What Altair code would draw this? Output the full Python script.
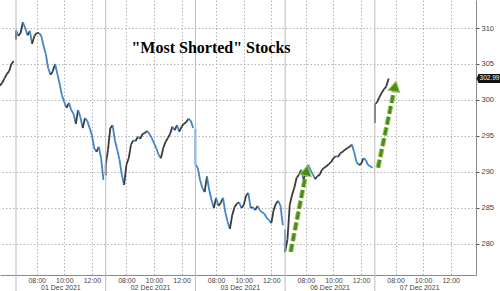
import altair as alt
import pandas as pd

# 10-minute closes
nov30_closes = [302.0, 302.4, 303.0, 303.6, 304.0, 305.0, 305.4]
dec01_closes = [309.7, 308.9, 309.3, 310.8, 310.0, 309.0, 309.6, 307.8, 308.9, 309.3,
                309.3, 308.9, 307.5, 306.3, 304.4, 303.5, 304.0, 305.0, 303.6, 302.2,
                300.6, 299.7, 298.9, 299.6, 298.6, 298.1, 296.7, 298.6, 297.6, 296.1,
                297.5, 297.1, 296.1, 295.1, 293.3, 292.8, 293.5, 291.9, 288.9]
dec02_closes = [291.0, 293.1, 296.1, 296.5, 294.4, 293.1, 291.7, 289.6, 288.2, 291.0,
                291.9, 293.8, 294.4, 294.3, 294.9, 294.6, 295.3, 295.4, 295.7, 295.3,
                294.7, 294.0, 293.3, 292.4, 291.9, 293.3, 294.2, 294.7, 295.3, 296.3,
                295.8, 296.5, 295.6, 296.3, 296.7, 296.9, 297.4, 297.1, 296.1]
dec03_closes = [291.0, 290.6, 288.9, 287.8, 287.2, 289.4, 287.5, 286.1, 285.0, 286.4,
                285.3, 285.7, 286.4, 284.4, 283.1, 282.1, 284.0, 285.1, 285.6, 285.8,
                285.0, 285.4, 286.7, 287.1, 285.0, 285.1, 284.7, 285.3, 284.7, 284.4,
                284.2, 283.6, 283.3, 282.9, 284.7, 285.6, 286.0, 285.3, 282.6]
dec06_closes = [278.9, 280.6, 285.4, 286.8, 287.8, 289.2, 289.6, 290.3, 288.9, 290.0,
                291.0, 290.3, 289.7, 289.0, 289.4, 289.6, 290.3, 290.6, 290.8, 291.1,
                291.4, 291.9, 292.2, 292.1, 292.6, 292.8, 293.1, 293.3, 293.5, 293.8,
                292.8, 291.4, 291.0, 291.1, 291.9, 291.7, 291.0, 290.8, 290.6]
dec07_closes = [299.4, 299.7, 300.4, 301.0, 301.5, 301.9, 302.99]
day_opens = [308.4, 289.5, 296.0, 282.0, 296.8]
day_labels = ["01 Dec 2021", "02 Dec 2021", "03 Dec 2021", "06 Dec 2021", "07 Dec 2021"]
time_ticks = [8, 10, 12]
y_ticks = [280, 285, 290, 295, 300, 305, 310]
last_price = 302.99
title_text = '"Most Shorted" Stocks'
# arrows: start position/price, head position/price, head angle
arrow_x = [19.9, 26.23]
arrow_y = [278.9, 290.6]
arrow_x2 = [21.05, 27.46]
arrow_y2 = [290.2, 301.9]
arrow_angle = [11, 11.5]

SESSION = 6.5
STEP = 1 / 6
OPEN_HOUR = 6.5

rows = []


def add(x, x2, y, y2):
    rows.append(dict(x=x, x2=x2, y=y, y2=y2, dir="up" if y2 >= y else "down"))


u = -SESSION + (11 + 50 / 60 - OPEN_HOUR)
for k in range(1, len(nov30_closes)):
    add(u + (k - 1) * STEP, u + k * STEP, nov30_closes[k - 1], nov30_closes[k])
days = [dec01_closes, dec02_closes, dec03_closes, dec06_closes, dec07_closes]
for i, closes in enumerate(days):
    u0 = i * SESSION
    add(u0, u0, day_opens[i], closes[0])
    for k in range(1, len(closes)):
        add(u0 + (k - 1) * STEP, u0 + k * STEP, closes[k - 1], closes[k])
seg_df = pd.DataFrame(rows)

tick_vals = [i * SESSION + (h - OPEN_HOUR) for i in range(len(days)) for h in time_ticks]
sep_df = pd.DataFrame({"x": [i * SESSION for i in range(len(days))]})
date_df = pd.DataFrame({"x": [i * SESSION + SESSION / 2 for i in range(len(days))],
                        "label": day_labels})
arrow_df = pd.DataFrame({"x": arrow_x, "y": arrow_y, "x2": arrow_x2, "y2": arrow_y2,
                         "angle": arrow_angle})
last_df = pd.DataFrame({"y": [last_price], "label": [f"{last_price:.2f}"]})
title_df = pd.DataFrame({"t": [title_text]})

xscale = alt.Scale(domain=[-1.159, 33.33], nice=False, zero=False)
yscale = alt.Scale(domain=[275.69, 313.89], nice=False, zero=False)

xaxis = alt.Axis(values=tick_vals, grid=True, gridDash=[1.5, 2], gridColor="#b5b5b5",
                 ticks=False, domainColor="#8a8a8a", labelFontSize=7, labelColor="#444",
                 labelFont="Liberation Sans", labelPadding=1, title=None,
                 labelExpr="(round(datum.value % 6.5 + 6.5) < 10 ? '0' : '') + round(datum.value % 6.5 + 6.5) + ':00'")
yaxis = alt.Axis(orient="right", values=y_ticks, grid=True, gridDash=[1.5, 2],
                 gridColor="#b5b5b5", tickSize=3, tickColor="#555", domainColor="#8a8a8a",
                 labelFontSize=7.5, labelColor="#444", labelFont="Liberation Sans",
                 labelPadding=2, title=None)


def X(field):
    return alt.X(field, scale=xscale, axis=xaxis)


def Y(field):
    return alt.Y(field, scale=yscale, axis=yaxis)


price = alt.Chart(seg_df).mark_rule(strokeWidth=1.8, clip=True).encode(
    x=X("x:Q"), x2="x2:Q", y=Y("y:Q"), y2="y2:Q",
    color=alt.Color("dir:N", scale=alt.Scale(domain=["up", "down"],
                                             range=["#3a3a3a", "#4285c6"]), legend=None))

seps = alt.Chart(sep_df).mark_rule(color="#bbbbbb", strokeWidth=1).encode(
    x=X("x:Q"), y=alt.value(0), y2=alt.value(291))

dates = alt.Chart(date_df).mark_text(fontSize=7, color="#444", font="Liberation Sans",
                                     baseline="bottom").encode(
    x=X("x:Q"), y=alt.value(291), text="label:N")

arrow_under = alt.Chart(arrow_df).mark_rule(strokeWidth=5, strokeDash=[8, 3],
                                            color="#9acd5a").encode(
    x=X("x:Q"), x2="x2:Q", y=Y("y:Q"), y2="y2:Q")
arrow_line = alt.Chart(arrow_df).mark_rule(strokeWidth=3, strokeDash=[8, 3],
                                           color="#4f8a1f").encode(
    x=X("x:Q"), x2="x2:Q", y=Y("y:Q"), y2="y2:Q")
arrow_head = alt.Chart(arrow_df).mark_point(shape="triangle-up", filled=True, size=140,
                                            color="#4f8a1f", stroke="#9acd5a",
                                            strokeWidth=1, opacity=1).encode(
    x=X("x2:Q"), y=Y("y2:Q"), angle=alt.Angle("angle:Q", scale=None))

box = alt.Chart(last_df).mark_point(
    shape="M-2.85,0L-2.45,-1H2.5V1H-2.45Z", filled=True, size=81, color="#111111",
    opacity=1).encode(x=alt.value(489.5), y=Y("y:Q"))
box_text = alt.Chart(last_df).mark_text(fontSize=6.5, color="white", font="Liberation Sans",
                                        baseline="middle", align="center").encode(
    x=alt.value(489.5), y=Y("y:Q"), text="label:N")

title = alt.Chart(title_df).mark_text(font="Liberation Serif", fontWeight="bold",
                                      fontSize=16, color="black", baseline="middle",
                                      align="center").encode(
    x=alt.value(211), y=alt.value(48), text="t:N")

chart = alt.layer(price, seps, arrow_under, arrow_line, arrow_head, dates, box, box_text,
                  title).properties(
    width=476, height=275,
    padding={"left": 0, "top": 0, "right": 24, "bottom": 16},
    autosize=alt.AutoSizeParams(type="none"),
    background="white",
).configure_view(strokeWidth=0)

chart.save("out.html", embed_options={"renderer": "svg", "actions": False})
